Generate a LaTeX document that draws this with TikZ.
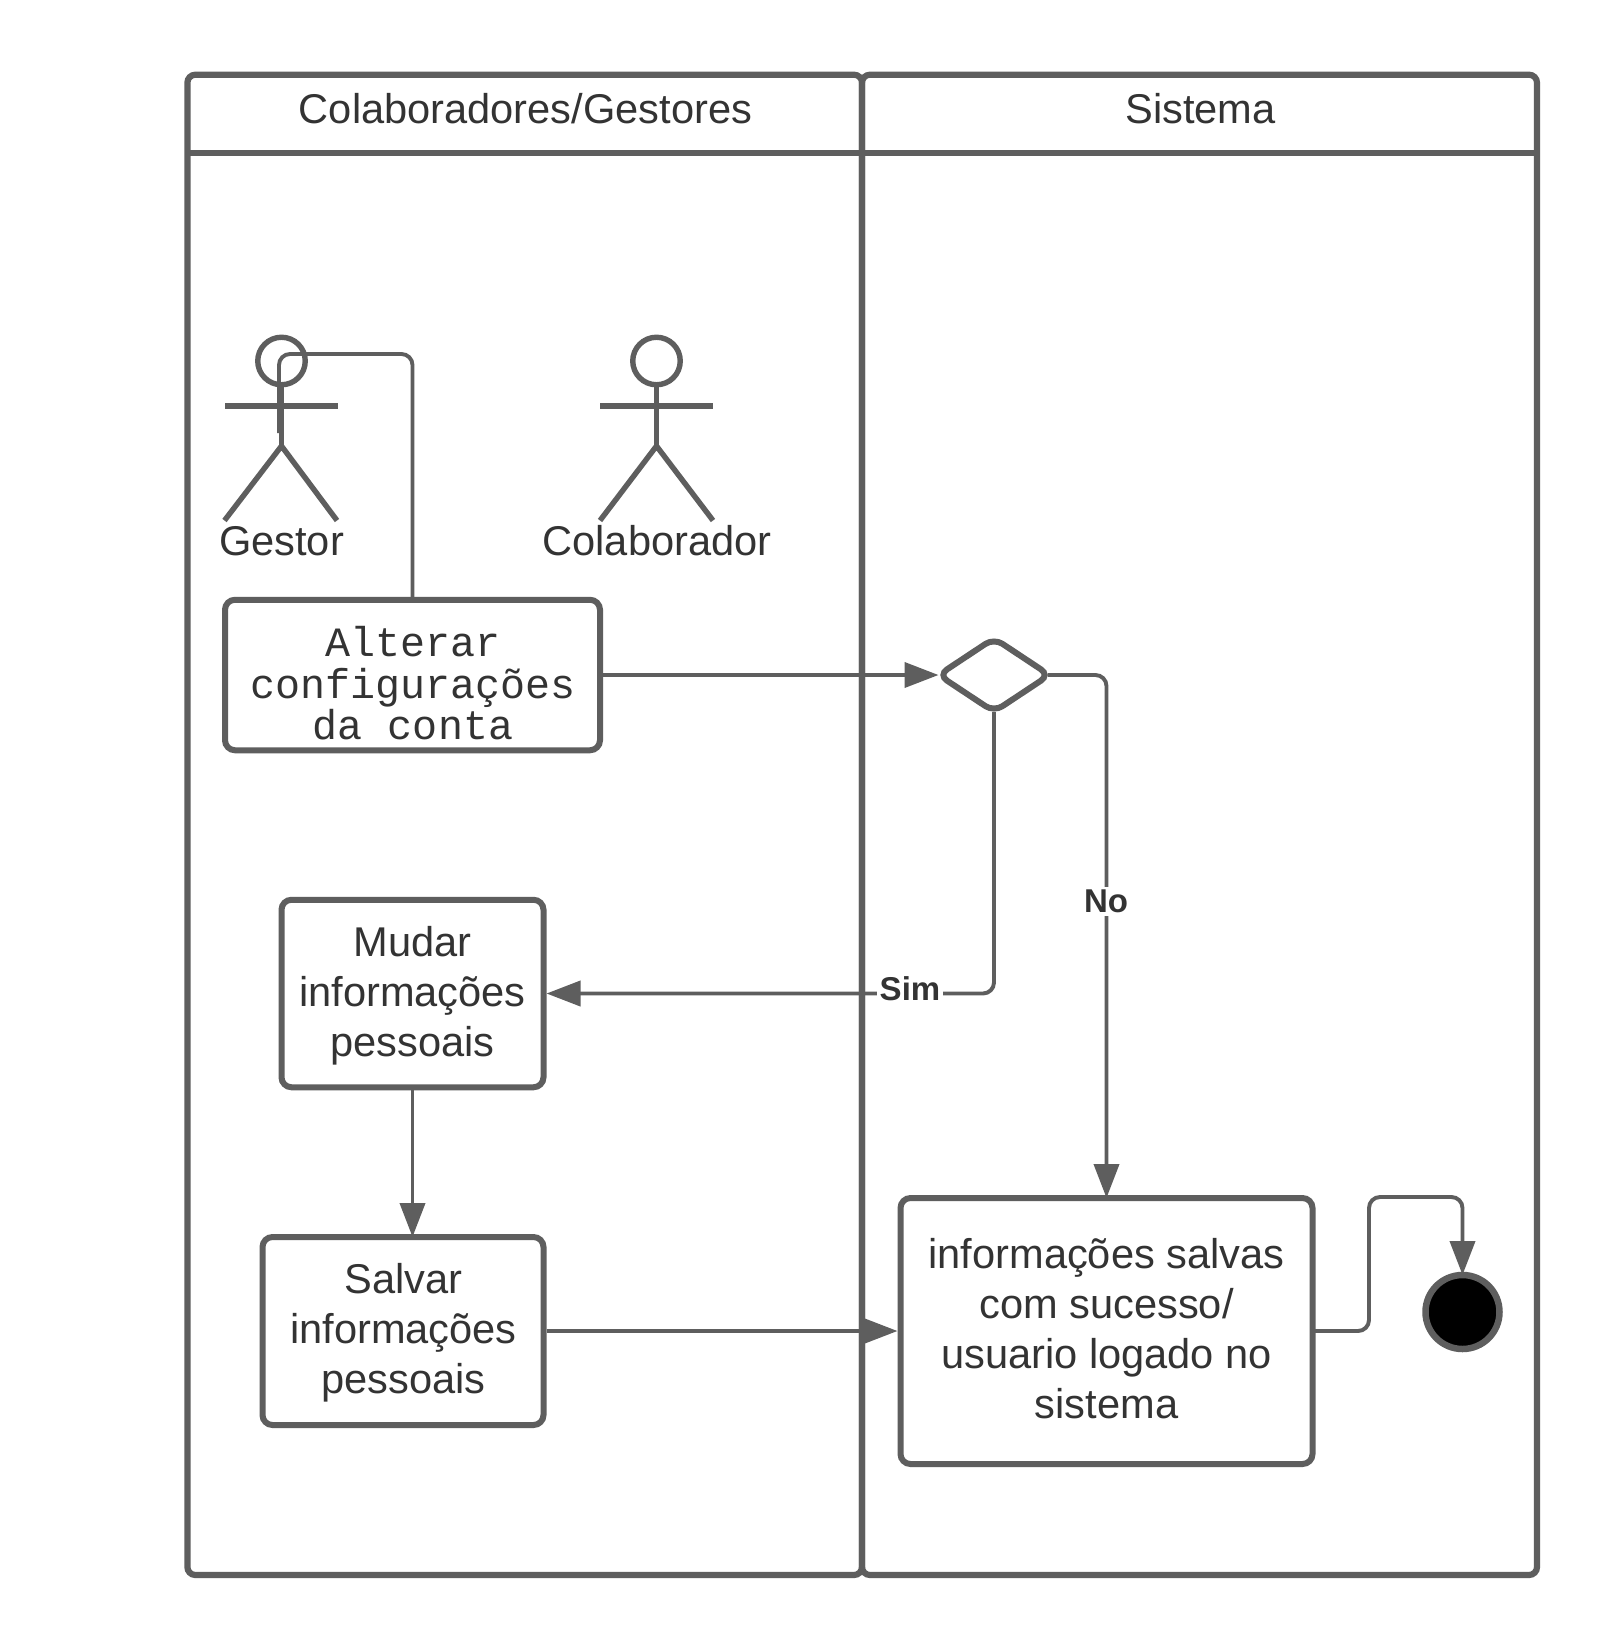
\documentclass[tikz,border=0pt]{standalone}
\usepackage{fontspec}
\setmainfont{Liberation Sans}
\newfontfamily\monofam{Liberation Mono}
\usetikzlibrary{arrows.meta,shapes.geometric}
\definecolor{linecol}{HTML}{5E5E5E}
\definecolor{textcol}{HTML}{333333}
\tikzset{
  x=1pt,y=-1pt,
  pool/.style={draw=linecol,line width=6.2pt,rounded corners=8pt,fill=none,inner sep=0pt,outer sep=0pt},
  headbar/.style={draw=linecol,line width=6.2pt},
  activity/.style={draw=linecol,line width=6pt,rounded corners=10pt,fill=white,inner sep=0pt,outer sep=0pt},
  activitytext/.style={text=textcol,align=center,font=\fontsize{41.6}{50}\selectfont,inner sep=0pt},
  monotext/.style={text=textcol,align=center,inner sep=0pt,font=\monofam\fontsize{41.7}{41.5}\selectfont},
  caption/.style={text=textcol,font=\fontsize{41.6}{50}\selectfont,inner sep=0pt},
  condlabel/.style={text=textcol,font=\bfseries\fontsize{33}{36}\selectfont,fill=white,inner sep=3pt},
  flow/.style={draw=linecol,line width=3.9pt,rounded corners=11pt,-{Triangle[length=34pt,width=25pt]}},
  plainflow/.style={draw=linecol,line width=3.9pt,rounded corners=11pt},
  figline/.style={draw=linecol,line width=5.4pt},
  fighead/.style={circle,draw=linecol,line width=5.4pt,minimum size=47.5pt,inner sep=0pt,outer sep=0pt},
  decision/.style={diamond,draw=linecol,line width=6pt,rounded corners=10pt,minimum width=111pt,minimum height=73.5pt,
    inner sep=0pt,outer sep=0pt,fill=white},
  finalstate/.style={circle,draw=linecol,line width=6.5pt,fill=black,minimum size=74pt,inner sep=0pt,outer sep=0pt},
}
\begin{document}
\begin{tikzpicture}
\useasboundingbox (0,0) rectangle (1613,1650);
\fill[white] (0,0) rectangle (1613,1650);
% pools
\node[pool,minimum width=674.6pt,minimum height=1500.3pt] (poolA) at (524.7,824.85) {};
\node[pool,minimum width=675pt,minimum height=1500.3pt] (poolB) at (1199.5,824.85) {};
\draw[headbar] (poolA.west |- 0,153) -- (poolB.east |- 0,153);
\node[caption] (titleA) at (525.5,109) {Colaboradores/Gestores};
\node[caption] (titleB) at (1200.5,109) {Sistema};
% actors
\node[fighead] (headG) at (281.5,361) {};
\coordinate (hipG) at (281.5,446);
\draw[figline] (headG.south) -- (281.5,433) -- (hipG);
\coordinate (armGl) at (225,406); \coordinate (armGr) at (338,406);
\draw[figline] (armGl) -- (armGr);
\coordinate (legGl) at (224.5,520.5); \coordinate (legGr) at (337,520.5);
\draw[figline] (legGl) -- (hipG) -- (legGr);
\node[caption] (nameG) at (281.5,541) {Gestor};
\node[fighead] (headC) at (656.5,361) {};
\coordinate (hipC) at (656.5,446);
\draw[figline] (headC.south) -- (656.5,433) -- (hipC);
\coordinate (armCl) at (600,406); \coordinate (armCr) at (713,406);
\draw[figline] (armCl) -- (armCr);
\coordinate (legCl) at (600,520.5); \coordinate (legCr) at (713,520.5);
\draw[figline] (legCl) -- (hipC) -- (legCr);
\node[caption] (nameC) at (657,541) {Colaborador};
% activities
\node[activity,minimum width=375pt,minimum height=150.5pt] (alterar) at (412.5,675) {};
\node[monotext] (alterarText) at (413,683.5) {Alterar\\configurações\\da conta};
\node[activity,minimum width=262pt,minimum height=187.5pt] (mudar) at (412.5,993.5) {};
\node[activitytext] (mudarText) at (412.5,995.5) {Mudar\\informações\\pessoais};
\node[activity,minimum width=281pt,minimum height=188pt] (salvar) at (403,1331) {};
\node[activitytext] (salvarText) at (403.5,1333) {Salvar\\informações\\pessoais};
\node[activity,minimum width=412pt,minimum height=266pt] (info) at (1106.5,1331) {};
\node[activitytext] (infoText) at (1106.5,1328.5) {informações salvas\\com sucesso/\\usuario logado no\\sistema};
\node[decision] (dec) at (994,675) {};
\node[finalstate] (final) at (1462.5,1312) {};
% connectors
\coordinate (bodyG) at (279,433);
\draw[plainflow] (alterar.north) -- (alterar.north |- 0,354) -- (bodyG |- 0,354) -- (bodyG);
\draw[flow] (alterar.east) ++(3,0) -- (dec.west);
\draw[flow,shorten >=3pt] (dec.south) |- (mudar.east);
\draw[flow,shorten <=-2pt] (dec.east) -| (info.north);
\draw[flow] (mudar.south) -- (salvar.north -| mudar.south);
\draw[flow,shorten >=3pt] (salvar.east) ++(3,0) -- (info.west);
\coordinate (bendA) at (1369,1197);
\draw[flow] (info.east |- 0,1331) -- (bendA |- 0,1331) -- (bendA) -- (final.north |- bendA) -- (final.north);
\node[condlabel] (sim) at (910,989) {Sim};
\node[condlabel] (no) at (1106,901) {No};
\end{tikzpicture}
\end{document}
